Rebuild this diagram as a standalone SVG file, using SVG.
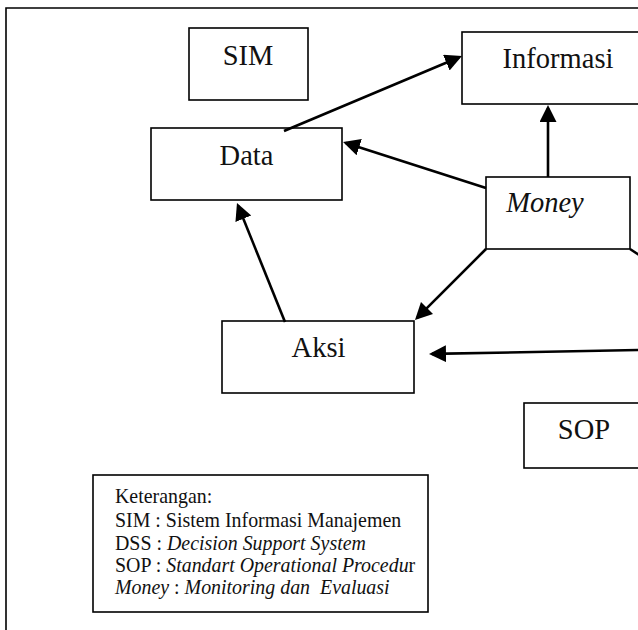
<svg xmlns="http://www.w3.org/2000/svg" width="638" height="630" viewBox="0 0 638 630">
<style>
text{font-family:"Liberation Serif","Times New Roman",serif;fill:#111}
.box{fill:#fff;stroke:#000;stroke-width:1.6}
.lbl{font-size:28.5px;text-anchor:middle}
.leg{font-size:19.9px;white-space:pre}
.it{font-style:italic}
.con{stroke:#000;stroke-width:2.6;fill:none}
</style>
<defs>
<marker id="ah" markerUnits="userSpaceOnUse" markerWidth="18" markerHeight="18" refX="14" refY="8.5" orient="auto">
<path d="M0,0 L17,8.5 L0,17 z" fill="#000"/>
</marker>
</defs>
<rect width="638" height="630" fill="#fff"/>
<path d="M6,640 L6,8 L650,8" fill="none" stroke="#000" stroke-width="1.6"/>
<g id="sim"><rect class="box" x="189" y="28" width="119" height="72"/><text class="lbl" x="248" y="65">SIM</text></g>
<g id="informasi"><rect class="box" x="462" y="32" width="192" height="72"/><text class="lbl" x="558" y="68">Informasi</text></g>
<g id="data"><rect class="box" x="151" y="128" width="191" height="72"/><text class="lbl" x="246.5" y="165">Data</text></g>
<g id="money"><rect class="box" x="486" y="177" width="144" height="72"/><text class="lbl it" x="545" y="212">Money</text></g>
<g id="aksi"><rect class="box" x="222" y="321" width="192" height="72"/><text class="lbl" x="318.5" y="357">Aksi</text></g>
<g id="sop"><rect class="box" x="524" y="403" width="130" height="65"/><text class="lbl" x="584" y="439">SOP</text></g>
<g id="connectors">
<path class="con" d="M284,131 L459.2,57.2" marker-end="url(#ah)"/>
<path class="con" d="M486,188 L345.9,142.9" marker-end="url(#ah)"/>
<path class="con" d="M548,177 L548,108" marker-end="url(#ah)"/>
<path class="con" d="M486,249 L417.1,317.9" marker-end="url(#ah)"/>
<path class="con" d="M285,322 L238.1,205.8" marker-end="url(#ah)"/>
<path class="con" d="M642,350 L432,353.9" marker-end="url(#ah)"/>
<path class="con" d="M630,249 L650,262"/>
</g>
<g id="legend">
<rect class="box" x="93" y="475" width="335" height="137"/>
<text class="leg" x="115" y="503">Keterangan:</text>
<text class="leg" x="115" y="527">SIM : Sistem Informasi Manajemen</text>
<text class="leg" x="115" y="550">DSS : <tspan class="it">Decision Support System</tspan></text>
<text class="leg" x="115" y="572">SOP : <tspan class="it">Standart Operational Procedu</tspan>r</text>
<text class="leg" x="115" y="594"><tspan class="it">Money</tspan> : <tspan class="it">Monitoring dan  Evaluasi</tspan></text>
</g>
</svg>
